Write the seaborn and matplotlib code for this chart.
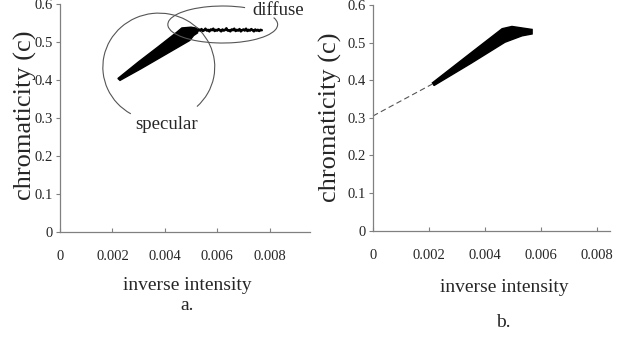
import matplotlib
matplotlib.use("Agg")
import matplotlib.pyplot as plt
import numpy as np
import pandas as pd
import seaborn as sns
from matplotlib.patches import Arc

# panel a: specular wedge outline (upper edge left->right, then lower edge right->left)
wedge_a_x = [0.00221, 0.0030, 0.0037, 0.00446, 0.00465, 0.0050, 0.00525,
             0.00525, 0.0051, 0.00495, 0.0040, 0.0031, 0.00229]
wedge_a_y = [0.404, 0.448, 0.485, 0.526, 0.537, 0.539, 0.536,
             0.524, 0.517, 0.504, 0.466, 0.430, 0.399]

# panel a: diffuse tail (noisy, nearly flat)
diffuse_x = [0.00520, 0.00525, 0.00530, 0.00535, 0.00540, 0.00545, 0.00550,
             0.00555, 0.00560, 0.00565, 0.00570, 0.00575, 0.00580, 0.00585,
             0.00590, 0.00595, 0.00600, 0.00605, 0.00610, 0.00615, 0.00620,
             0.00625, 0.00630, 0.00635, 0.00640, 0.00645, 0.00650, 0.00655,
             0.00660, 0.00665, 0.00670, 0.00675, 0.00680, 0.00685, 0.00690,
             0.00695, 0.00700, 0.00705, 0.00710, 0.00715, 0.00720, 0.00725,
             0.00730, 0.00735, 0.00740, 0.00745, 0.00750, 0.00755, 0.00760,
             0.00765, 0.00770]
diffuse_y = [0.532, 0.529, 0.533, 0.530, 0.534, 0.529, 0.531, 0.535, 0.530,
             0.532, 0.528, 0.533, 0.531, 0.535, 0.529, 0.532, 0.530, 0.534,
             0.531, 0.528, 0.533, 0.530, 0.532, 0.536, 0.530, 0.531, 0.528,
             0.533, 0.531, 0.535, 0.529, 0.532, 0.530, 0.534, 0.528, 0.531,
             0.533, 0.530, 0.535, 0.529, 0.532, 0.530, 0.534, 0.531, 0.528,
             0.533, 0.530, 0.532, 0.529, 0.532, 0.531]

# panel b: specular-only wedge outline
wedge_b_x = [0.00212, 0.0035, 0.00461, 0.00496, 0.00568,
             0.00568, 0.00532, 0.00471, 0.0035, 0.00218]
wedge_b_y = [0.393, 0.473, 0.537, 0.543, 0.535,
             0.523, 0.518, 0.501, 0.445, 0.386]

# panel b: dashed extrapolation to the y intercept
extrap_x = [0.0, 0.00212]
extrap_y = [0.305, 0.390]

y_ticks = [0, 0.1, 0.2, 0.3, 0.4, 0.5, 0.6]
y_tick_labels = ["0", "0.1", "0.2", "0.3", "0.4", "0.5", "0.6"]
x_ticks = [0, 0.002, 0.004, 0.006, 0.008]
x_tick_labels = ["0", "0.002", "0.004", "0.006", "0.008"]

sns.set_style("ticks")
plt.rcParams["font.family"] = ["Liberation Serif", "DejaVu Serif"]

GRAY = "#808080"


def style_axes(ax, xmax):
    ax.set_xlim(0, xmax)
    ax.set_ylim(0, 0.6)
    ax.set_yticks(y_ticks)
    ax.set_yticklabels(y_tick_labels)
    ax.set_xticks(x_ticks)
    ax.set_xticklabels(x_tick_labels)
    ax.tick_params(axis="x", direction="in", length=3, width=0.8, color=GRAY,
                   pad=13, labelsize=10.5)
    ax.tick_params(axis="y", direction="out", length=3, width=0.8, color=GRAY,
                   pad=2, labelsize=10.5)
    sns.despine(ax=ax)
    for s in ("left", "bottom"):
        ax.spines[s].set_color(GRAY)
        ax.spines[s].set_linewidth(0.9)
    ax.set_xlabel("")
    ax.set_ylabel("")
    ax.patch.set_alpha(0)


def arc(ax, cx, cy, w, h, t1, t2):
    # t1, t2 are angles on the ellipse's own parameter; Arc wants geometric ones
    def geo(t):
        t = np.radians(t)
        return np.degrees(np.arctan2(h * np.sin(t), w * np.cos(t)))
    ax.add_patch(Arc((cx, cy), w, h, theta1=geo(t1), theta2=geo(t2),
                     color="#555555", lw=0.8, clip_on=False))


fig = plt.figure(figsize=(6.28, 3.39), dpi=100)
ax_a = fig.add_axes([60 / 628, 1 - 232 / 339, 250 / 628, 228 / 339])
ax_b = fig.add_axes([373 / 628, 1 - 230.7 / 339, 237 / 628, 225.7 / 339])

# ---- panel a
ax_a.fill(wedge_a_x, wedge_a_y, color="black", lw=1.0, ec="black")
sns.lineplot(data=pd.DataFrame({"x": diffuse_x, "y": diffuse_y}), x="x", y="y",
             ax=ax_a, color="black", lw=1.8, sort=False)
arc(ax_a, 0.00377, 0.434, 0.00427, 0.284, -47, 240)
arc(ax_a, 0.00621, 0.546, 0.00419, 0.0974, 66, 22)
ax_a.text(0.00407, 0.282, "specular", fontsize=13.5, ha="center", va="center")
ax_a.text(0.00834, 0.582, "diffuse", fontsize=13.5, ha="center", va="center",
          clip_on=False)
style_axes(ax_a, 0.00954)
ax_a.text(-0.14, 0.513, "chromaticity (c)", rotation=90, fontsize=19,
          ha="center", va="center", transform=ax_a.transAxes)
ax_a.text(0.508, -0.236, "inverse intensity", fontsize=14,
          ha="center", va="center", transform=ax_a.transAxes)
ax_a.text(0.508, -0.342, "a.", fontsize=14,
          ha="center", va="baseline", transform=ax_a.transAxes)

# ---- panel b
ax_b.fill(wedge_b_x, wedge_b_y, color="black", lw=1.0, ec="black")
sns.lineplot(data=pd.DataFrame({"x": extrap_x, "y": extrap_y}), x="x", y="y",
             ax=ax_b, color="#555555", lw=0.8, dashes=False, clip_on=False)
ax_b.lines[-1].set_dashes([5, 3])
style_axes(ax_b, 0.00846)
ax_b.text(-0.181, 0.504, "chromaticity (c)", rotation=90, fontsize=19,
          ha="center", va="center", transform=ax_b.transAxes)
ax_b.text(0.553, -0.252, "inverse intensity", fontsize=14,
          ha="center", va="center", transform=ax_b.transAxes)
ax_b.text(0.549, -0.425, "b.", fontsize=14,
          ha="center", va="baseline", transform=ax_b.transAxes)

fig.savefig("out.png", dpi=100, facecolor="white")
